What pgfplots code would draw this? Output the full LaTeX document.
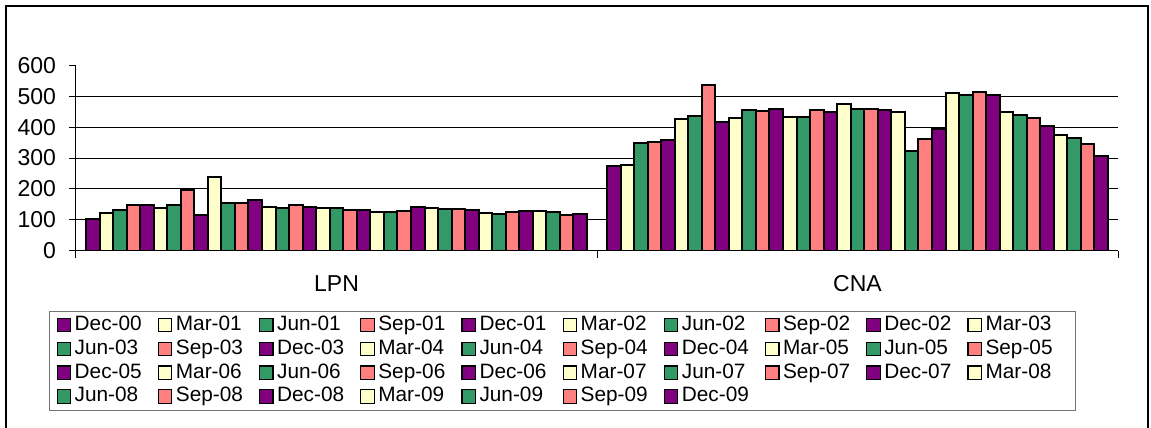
\documentclass[border=0pt]{standalone}
\usepackage{fontspec}
\setmainfont{Liberation Sans}
\usepackage{pgfplots}
\pgfplotsset{compat=1.18}

\definecolor{cp}{HTML}{800080}
\definecolor{cy}{HTML}{FFFFCC}
\definecolor{cg}{HTML}{339966}
\definecolor{cs}{HTML}{FF8080}

\begin{document}
\begin{tikzpicture}
\useasboundingbox (0,0) rectangle (575.5pt,-214pt);
% outer chart frame
\draw[line width=1pt] (2.75pt,-216pt) -- (2.75pt,-2.75pt) -- (574pt,-2.75pt) -- (574pt,-216pt);
\begin{axis}[
    at={(38pt,-125.35pt)}, anchor=south west,
    width=521pt, height=92.7pt, scale only axis,
    ybar=0pt, bar width=6.77pt,
    xmin=0, xmax=2, ymin=0, ymax=600,
    axis x line*=bottom, axis y line*=left,
    axis line style={line width=0.5pt},
    tick align=outside, major tick length=3.5pt,
    tick style={black, line width=0.5pt},
    xtick={0,1,2}, xticklabels={},
    extra x ticks={0.5,1.5}, extra x tick labels={LPN,CNA},
    extra x tick style={major tick length=0pt,
        xticklabel style={anchor=center, yshift=-16.5pt}},
    ytick={0,100,...,600},
    extra y ticks={100,200,300,400,500}, extra y tick labels={},
    extra y tick style={ymajorgrids=true,
        major grid style={black, line width=0.5pt}},
    ticklabel style={font=\fontsize{11.5}{13}\selectfont},
    yticklabel style={xshift=-3pt},
    /pgf/number format/assume math mode=true,
    every axis plot/.append style={draw=black, line width=1pt},
    legend columns=10,
    legend cell align=left,
    legend style={
        at={(-0.0259,-0.3235)}, anchor=north west,
        draw=black!55, line width=0.5pt,
        inner xsep=3.5pt, inner ysep=1pt,
        font=\fontsize{10.4}{12}\selectfont,
        nodes={inner xsep=1.8pt, inner ysep=1.2pt, text width=39.7pt,
               text height=7.5pt, text depth=2pt, align=left},
    },
    legend image code/.code={\draw[#1, line width=0.6pt] (0pt,-3.35pt) rectangle (6.7pt,3.35pt);},
]
\addplot[fill=cp] coordinates {(0.5,101) (1.5,275)};
\addplot[fill=cy] coordinates {(0.5,122) (1.5,277)};
\addplot[fill=cg] coordinates {(0.5,131) (1.5,349)};
\addplot[fill=cs] coordinates {(0.5,147) (1.5,352)};
\addplot[fill=cp] coordinates {(0.5,147) (1.5,359)};
\addplot[fill=cy] coordinates {(0.5,137) (1.5,427)};
\addplot[fill=cg] coordinates {(0.5,147) (1.5,437)};
\addplot[fill=cs] coordinates {(0.5,195) (1.5,537)};
\addplot[fill=cp] coordinates {(0.5,114) (1.5,415)};
\addplot[fill=cy] coordinates {(0.5,240) (1.5,430)};
\addplot[fill=cg] coordinates {(0.5,155) (1.5,454)};
\addplot[fill=cs] coordinates {(0.5,155) (1.5,453)};
\addplot[fill=cp] coordinates {(0.5,165) (1.5,458)};
\addplot[fill=cy] coordinates {(0.5,142) (1.5,432)};
\addplot[fill=cg] coordinates {(0.5,137) (1.5,434)};
\addplot[fill=cs] coordinates {(0.5,147) (1.5,454)};
\addplot[fill=cp] coordinates {(0.5,143) (1.5,450)};
\addplot[fill=cy] coordinates {(0.5,138) (1.5,475)};
\addplot[fill=cg] coordinates {(0.5,138) (1.5,459)};
\addplot[fill=cs] coordinates {(0.5,133) (1.5,458)};
\addplot[fill=cp] coordinates {(0.5,133) (1.5,456)};
\addplot[fill=cy] coordinates {(0.5,125) (1.5,449)};
\addplot[fill=cg] coordinates {(0.5,126) (1.5,324)};
\addplot[fill=cs] coordinates {(0.5,128) (1.5,361)};
\addplot[fill=cp] coordinates {(0.5,143) (1.5,393)};
\addplot[fill=cy] coordinates {(0.5,139) (1.5,510)};
\addplot[fill=cg] coordinates {(0.5,136) (1.5,503)};
\addplot[fill=cs] coordinates {(0.5,136) (1.5,513)};
\addplot[fill=cp] coordinates {(0.5,131) (1.5,504)};
\addplot[fill=cy] coordinates {(0.5,123) (1.5,449)};
\addplot[fill=cg] coordinates {(0.5,120) (1.5,440)};
\addplot[fill=cs] coordinates {(0.5,125) (1.5,431)};
\addplot[fill=cp] coordinates {(0.5,130) (1.5,403)};
\addplot[fill=cy] coordinates {(0.5,127) (1.5,373)};
\addplot[fill=cg] coordinates {(0.5,124) (1.5,366)};
\addplot[fill=cs] coordinates {(0.5,116) (1.5,345)};
\addplot[fill=cp] coordinates {(0.5,120) (1.5,307)};
\legend{Dec-00,Mar-01,Jun-01,Sep-01,Dec-01,Mar-02,Jun-02,Sep-02,Dec-02,Mar-03,
Jun-03,Sep-03,Dec-03,Mar-04,Jun-04,Sep-04,Dec-04,Mar-05,Jun-05,Sep-05,
Dec-05,Mar-06,Jun-06,Sep-06,Dec-06,Mar-07,Jun-07,Sep-07,Dec-07,Mar-08,
Jun-08,Sep-08,Dec-08,Mar-09,Jun-09,Sep-09,Dec-09}
\end{axis}
\end{tikzpicture}
\end{document}
